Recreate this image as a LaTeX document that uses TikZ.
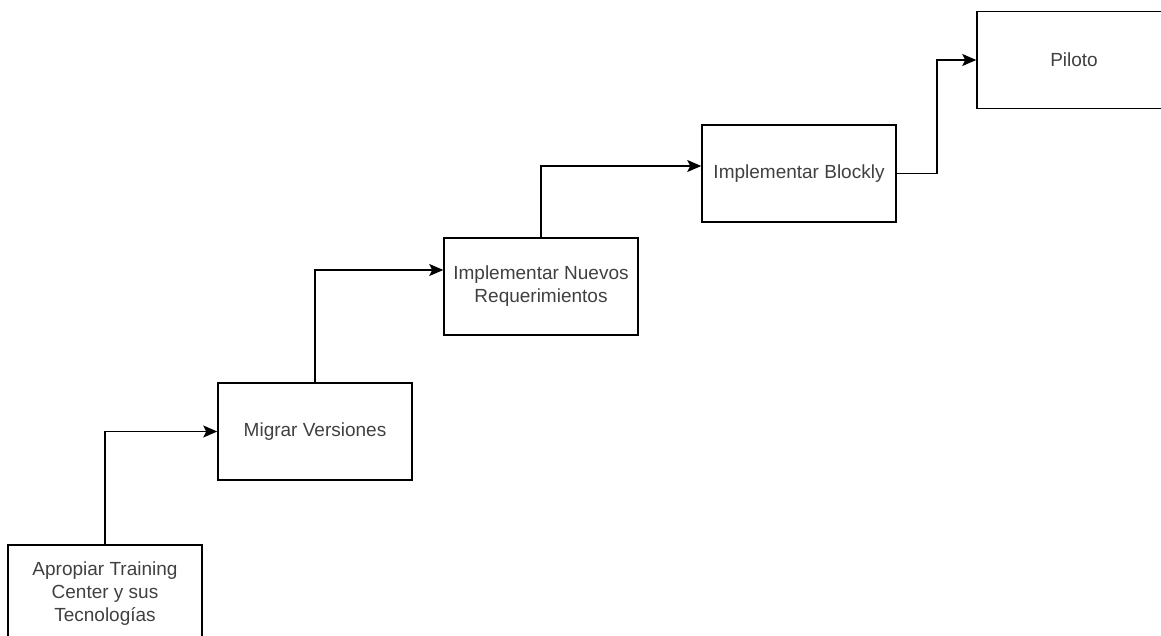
\documentclass[tikz,border=0pt]{standalone}
\usepackage{fontspec}
\setmainfont{Liberation Sans}
\usetikzlibrary{arrows.meta}

\tikzset{
  etapa/.style={draw, line width=1.5pt, minimum width=194pt, minimum height=97pt,
    align=center, inner sep=2pt, text=black!75,
    font=\fontsize{19}{23}\selectfont},
  flecha/.style={line width=1.5pt, -{Stealth[length=14pt,width=12pt,inset=3pt]}}
}

\begin{document}
\begin{tikzpicture}[x=1pt,y=-1pt]
\clip (0,0) rectangle (1161,636);
\node[etapa] (apropiar) at (105,593.5) {Apropiar Training\\Center y sus\\Tecnologías};
\node[etapa] (migrar) at (315,431.5) {Migrar Versiones};
\node[etapa] (nuevos) at (541,286.5) {Implementar Nuevos\\Requerimientos};
\node[etapa] (blockly) at (799,173.5) {Implementar Blockly};
\node[etapa] (piloto) at (1074,60) {Piloto};

\draw[flecha] (apropiar.north) |- (migrar.west);
\draw[flecha] (migrar.north) |- ([yshift=16.5pt]nuevos.west);
\draw[flecha] (nuevos.north) |- ([yshift=7.5pt]blockly.west);
\draw[flecha] (blockly.east) -- ++(40,0) |- (piloto.west);
\end{tikzpicture}
\end{document}
